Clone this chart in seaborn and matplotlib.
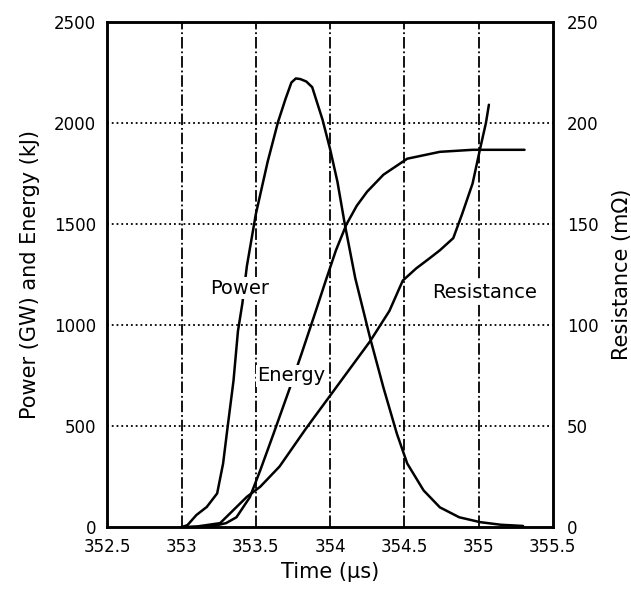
import numpy as np
import pandas as pd
import matplotlib
matplotlib.use("Agg")
import matplotlib.pyplot as plt
import seaborn as sns

# values
power_t = [353.0, 353.04, 353.1, 353.17, 353.24, 353.28, 353.31, 353.35, 353.38, 353.41,
           353.44, 353.5, 353.58, 353.65, 353.70, 353.74, 353.77, 353.80, 353.84, 353.88,
           353.95, 354.0, 354.05, 354.1, 354.17, 354.27, 354.36, 354.45, 354.52, 354.63,
           354.74, 354.87, 355.01, 355.15, 355.3]
power_v = [0, 10, 60, 100, 167, 315, 493, 724, 970, 1108,
           1291, 1547, 1808, 2005, 2118, 2200, 2220, 2217, 2205, 2177,
           2015, 1872, 1709, 1497, 1232, 936, 690, 463, 315, 182,
           98, 49, 25, 12, 6]

energy_t = [353.05, 353.21, 353.3, 353.37, 353.46, 353.53, 353.62, 353.73, 353.81, 353.9,
            353.97, 354.04, 354.11, 354.18, 354.25, 354.36, 354.52, 354.74, 354.96, 355.31]
energy_v = [0, 5, 20, 49, 148, 281, 463, 690, 862, 1060,
            1217, 1370, 1497, 1590, 1660, 1744, 1823, 1857, 1867, 1867]

res_t = [353.0, 353.1, 353.26, 353.44, 353.53, 353.66, 353.84, 354.02, 354.27, 354.4,
         354.49, 354.58, 354.67, 354.74, 354.83, 354.89, 354.96, 355.01, 355.05, 355.07]
res_v = [0, 0.3, 2, 15, 20, 30, 49, 67, 92, 107,
         122, 128, 133, 137, 143, 155, 170, 187, 200, 209]

x_ticks = [352.5, 353, 353.5, 354, 354.5, 355, 355.5]
x_labels = ["352.5", "353", "353.5", "354", "354.5", "355", "355.5"]
left_ticks = [0, 500, 1000, 1500, 2000, 2500]
right_ticks = [0, 50, 100, 150, 200, 250]

sns.set_style("white")
plt.rcParams["font.family"] = ["DejaVu Sans"]
plt.rcParams["text.color"] = "black"
plt.rcParams["axes.labelcolor"] = "black"
plt.rcParams["xtick.color"] = "black"
plt.rcParams["ytick.color"] = "black"

fig = plt.figure(figsize=(6.31, 5.91), dpi=100)
ax = fig.add_axes([0.170, 0.108, 0.706, 0.855])

pdf = pd.DataFrame({"t": power_t, "v": power_v})
edf = pd.DataFrame({"t": energy_t, "v": energy_v})
sns.lineplot(data=pdf, x="t", y="v", ax=ax, color="black", lw=1.8)
sns.lineplot(data=edf, x="t", y="v", ax=ax, color="black", lw=1.8)

ax.set_xlim(352.5, 355.5)
ax.set_ylim(0, 2500)
ax.set_xticks(x_ticks)
ax.set_xticklabels(x_labels)
ax.set_yticks(left_ticks)
for xv in x_ticks[1:-1]:
    ax.axvline(xv, color="black", lw=1.3, ls="-.", zorder=0)
for yv in left_ticks[1:-1]:
    ax.axhline(yv, color="black", lw=1.3, ls=":", zorder=0)

ax.set_xlabel("Time (µs)", fontsize=15)
ax.set_ylabel("Power (GW) and Energy (kJ)", fontsize=15, labelpad=10)
ax.tick_params(length=0, labelsize=12, pad=8)

ax2 = ax.twinx()
rdf = pd.DataFrame({"t": res_t, "v": res_v})
sns.lineplot(data=rdf, x="t", y="v", ax=ax2, color="black", lw=1.8)
ax2.set_ylim(0, 250)
ax2.set_yticks(right_ticks)
ax2.set_ylabel("Resistance (mΩ)", fontsize=15, labelpad=10)
ax2.tick_params(length=0, labelsize=12, pad=10)

for a in (ax, ax2):
    for s in a.spines.values():
        s.set_color("black")
        s.set_linewidth(1.8)

ax.text(353.39, 1182, "Power", fontsize=14, ha="center", va="center",
        bbox=dict(fc="white", ec="none", pad=1))
ax.text(353.74, 749, "Energy", fontsize=14, ha="center", va="center",
        bbox=dict(fc="white", ec="none", pad=1))
ax.text(355.04, 1163, "Resistance", fontsize=14, ha="center", va="center",
        bbox=dict(fc="white", ec="none", pad=1))

fig.savefig("out.png", dpi=100)
